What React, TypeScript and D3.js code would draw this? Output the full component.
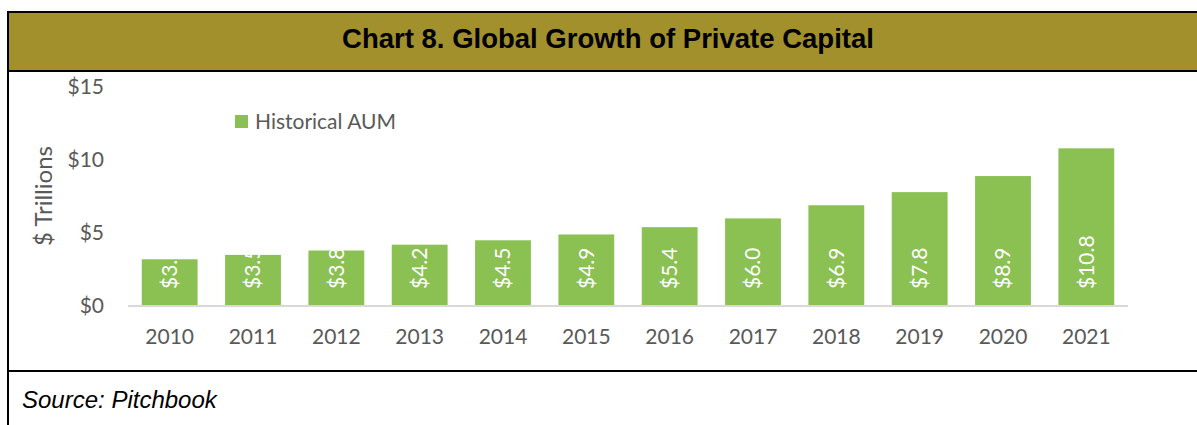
import React from "react";
import * as d3 from "d3";

const years = ["2010","2011","2012","2013","2014","2015","2016","2017","2018","2019","2020","2021"];
const aum = [3.2, 3.5, 3.8, 4.2, 4.5, 4.9, 5.4, 6.0, 6.9, 7.8, 8.9, 10.8];
const yTicks = [0, 5, 10, 15];
const title = "Chart 8. Global Growth of Private Capital";
const seriesName = "Historical AUM";
const yTitle = "$ Trillions";
const source = "Source: Pitchbook";

const W = 1197, H = 425;
const FONT = "Lato, 'Open Sans', sans-serif";
const GRAY = "#595959";
const GREEN = "#8BC053";

export default function App() {
  const x = d3.scaleBand<string>().domain(years).range([128, 1128]).paddingInner(0.33).paddingOuter(0.165);
  const y = d3.scaleLinear().domain([0, 15]).range([306, 87]);
  return (
    <div style={{ position: "absolute", left: 0, top: 0 }}>
      <svg width={W} height={H} style={{ display: "block" }}>
        <rect x={0} y={0} width={W} height={H} fill="#fff" />
        <rect x={8} y={12} width={W - 8} height={59} fill="#A2902D" />
        <line x1={7} x2={W} y1={12} y2={12} stroke="#000" strokeWidth={2} />
        <line x1={7} x2={W} y1={71} y2={71} stroke="#000" strokeWidth={2} />
        <line x1={8} x2={8} y1={11} y2={H} stroke="#000" strokeWidth={2} />
        <line x1={7} x2={W} y1={371} y2={371} stroke="#000" strokeWidth={2} />
        <text x={608} y={48} textAnchor="middle" fontFamily="Arial, 'Liberation Sans', sans-serif" fontWeight="bold" fontSize={27.5} fill="#000">{title}</text>
        <text x={22} y={408} fontFamily="Arial, 'Liberation Sans', sans-serif" fontStyle="italic" fontSize={24} fill="#000">{source}</text>

        {yTicks.map(t => (
          <text key={t} x={104} y={y(t)} dy="0.35em" textAnchor="end" fontFamily={FONT} fontSize={21} fill={GRAY}>{"$" + t}</text>
        ))}
        <text transform={`translate(52,196) rotate(-90)`} textAnchor="middle" fontFamily={FONT} fontSize={24} fill={GRAY}>{yTitle}</text>

        {years.map((yr, i) => (
          <g key={yr}>
            <rect x={x(yr)} y={y(aum[i])} width={x.bandwidth()} height={y(0) - y(aum[i])} fill={GREEN} />
          </g>
        ))}
        <line x1={128} x2={1128} y1={y(0)} y2={y(0)} stroke="#D9D9D9" strokeWidth={2} />
        {years.map((yr, i) => (
          <text key={yr} transform={`translate(${(x(yr) as number) + x.bandwidth() / 2},${y(0) - 17}) rotate(-90)`} dy="0.35em" textAnchor="start" fontFamily={FONT} fontSize={21} fill="#fff">{"$" + aum[i].toFixed(1)}</text>
        ))}
        {years.map(yr => (
          <text key={yr} x={(x(yr) as number) + x.bandwidth() / 2} y={337} dy="0.35em" textAnchor="middle" fontFamily={FONT} fontSize={21} fill={GRAY}>{yr}</text>
        ))}

        <rect x={235} y={115} width={13} height={13} fill={GREEN} />
        <text x={255} y={122} dy="0.35em" fontFamily={FONT} fontSize={21} fill={GRAY}>{seriesName}</text>
      </svg>
    </div>
  );
}
